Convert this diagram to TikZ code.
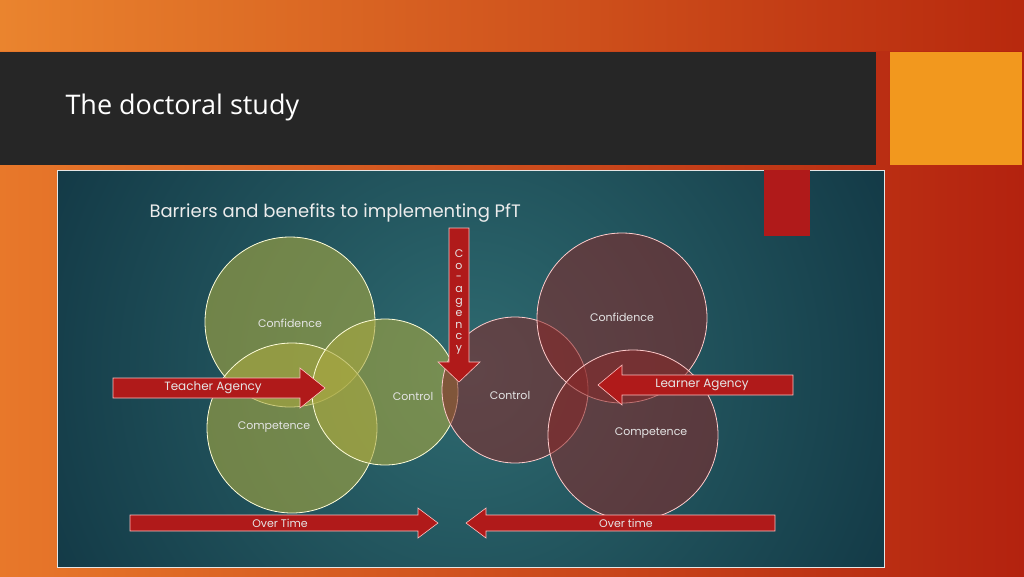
\documentclass[tikz,border=0pt]{standalone}
\usepackage{fontspec}
\setmainfont{Poppins}
\newfontfamily\titlefont{Open Sans}
\definecolor{bgl}{HTML}{E8782A}
\definecolor{bgr}{HTML}{B3220F}
\definecolor{topband}{HTML}{EC8A30}
\definecolor{sq}{HTML}{F2981E}
\definecolor{pin}{HTML}{2E6A70}
\definecolor{pout}{HTML}{123845}
\definecolor{arrc}{HTML}{B01A1A}
\definecolor{ycol}{HTML}{A8A840}
\definecolor{rcol}{HTML}{8A2828}
\begin{document}
\begin{tikzpicture}[x=1pt,y=-1pt,
  arr/.style={fill=arrc, draw=white!75!red, line width=0.6pt},
  lbl/.style={text=white!90!black, font=\fontsize{11}{13}\selectfont},
  ycirc/.style={fill=ycol, fill opacity=0.6, draw=white!85!yellow, line width=0.8pt},
  rcirc/.style={fill=rcol, fill opacity=0.55, draw=white!80!red, line width=0.8pt}]
\useasboundingbox (0,0) rectangle (1024,576);
\shade[left color=bgl, right color=bgr] (0,0) rectangle (1024,576);
\shade[left color=topband, right color=bgr!90!orange, opacity=0.7] (0,0) rectangle (1024,50);
\fill[black!85] (0,52) rectangle (876,165);
\fill[sq] (890,52) rectangle (1022,165);
\node[anchor=west, text=white, font=\titlefont\fontsize{27}{32}\selectfont] (t) at (62,107) {The doctoral study};
% panel
\begin{scope}
\clip (57,170) rectangle (884,567);
\fill[pout] (57,170) rectangle (884,567);
\shade[inner color=pin, outer color=pout] (470,370) circle (480);
\end{scope}
\draw[white!80!gray, line width=1pt] (57,170) rectangle (884,567);
\fill[arrc] (764,170) rectangle (810,236);
\node[anchor=west, text=white!85!gray, font=\fontsize{18}{22}\selectfont] (h) at (146,213) {Barriers and benefits to implementing PfT};
% circles
\draw[ycirc] (290,322) circle (85);
\draw[ycirc] (292,428) circle (85);
\draw[ycirc] (385,392) circle (73);
\draw[rcirc] (515,390) circle (73);
\draw[rcirc] (622,318) circle (85);
\draw[rcirc] (633,435) circle (85);
\node[lbl] (c1) at (290,323) {Confidence};
\node[lbl] (c2) at (274,427) {Competence};
\node[lbl] (c3) at (413,396) {Control};
\node[lbl] (c4) at (510,395) {Control};
\node[lbl] (c5) at (622,317) {Confidence};
\node[lbl] (c6) at (651,433) {Competence};
% arrows
\draw[arr] (113,378) -- (300,378) -- (300,368) -- (325,388) -- (300,408) -- (300,398) -- (113,398) -- cycle;
\node[lbl, font=\fontsize{12}{14}\selectfont] (ta) at (213,388) {Teacher Agency};
\draw[arr] (793,375) -- (622,375) -- (622,365) -- (598,385) -- (622,405) -- (622,395) -- (793,395) -- cycle;
\node[lbl, font=\fontsize{12}{14}\selectfont] (la) at (702,385) {Learner Agency};
\draw[arr] (449,228) -- (469,228) -- (469,362) -- (480,362) -- (459,382) -- (438,362) -- (449,362) -- cycle;
\node[lbl, align=center, font=\fontsize{11}{11.8}\selectfont] (co) at (459,302) {C\\o\\-\\a\\g\\e\\n\\c\\y};
\draw[arr] (130,515) -- (418,515) -- (418,508) -- (438,523) -- (418,538) -- (418,531) -- (130,531) -- cycle;
\node[lbl] (o1) at (280,523) {Over Time};
\draw[arr] (775,515) -- (486,515) -- (486,508) -- (466,523) -- (486,538) -- (486,531) -- (775,531) -- cycle;
\node[lbl] (o2) at (626,523) {Over time};
\end{tikzpicture}
\end{document}
